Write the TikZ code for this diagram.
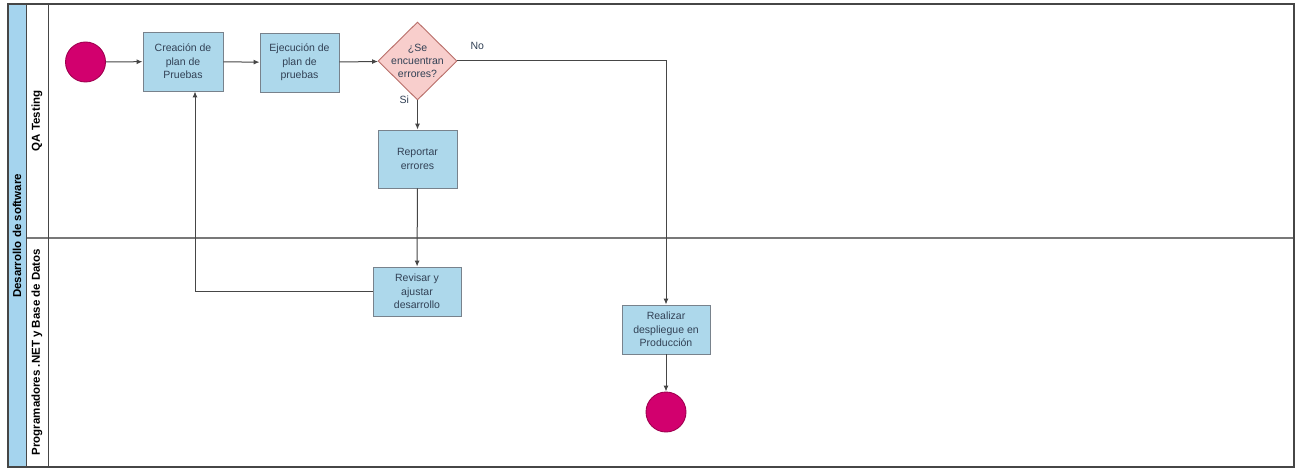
\documentclass[tikz,border=0pt]{standalone}
\usepackage{fontspec}
\setmainfont{Liberation Sans}
\usetikzlibrary{shapes.geometric,arrows.meta}
\definecolor{taskfill}{RGB}{173,216,235}
\definecolor{taskline}{RGB}{120,130,140}
\definecolor{tasktext}{RGB}{50,65,85}
\definecolor{decfill}{RGB}{248,206,204}
\definecolor{decline}{RGB}{184,110,105}
\definecolor{evfill}{RGB}{210,0,110}
\definecolor{evline}{RGB}{160,0,80}
\definecolor{poolfill}{RGB}{165,212,238}
\definecolor{frameline}{RGB}{70,70,70}
\definecolor{laneline}{RGB}{120,120,120}
\definecolor{flowline}{RGB}{70,70,70}
\begin{document}
\begin{tikzpicture}[x=1pt,y=-1pt,
  task/.style={draw=taskline, fill=taskfill, line width=0.9pt, align=center,
    inner sep=0pt, text=tasktext, font=\fontsize{10.5}{13.5}\selectfont},
  decision/.style={diamond, draw=decline, fill=decfill, line width=0.9pt,
    inner sep=0pt, minimum width=79, minimum height=78},
  event/.style={circle, draw=evline, fill=evfill, line width=0.9pt,
    inner sep=0pt, minimum size=40},
  flow/.style={draw=flowline, line width=1pt, -{Latex[length=6,width=5]}},
  flowlabel/.style={text=tasktext, font=\fontsize{10.5}{13}\selectfont},
  lanetitle/.style={font=\bfseries\fontsize{11.5}{13}\selectfont, text=black, rotate=90}]
\useasboundingbox (0,0) rectangle (1297,470);

% pool frame, title band and lanes
\fill[white] (8,4) rectangle (1294,467);
\fill[poolfill] (8,4) rectangle (26,467);
\draw[laneline, line width=2pt] (26,238) -- (1294,238);
\draw[frameline, line width=1pt] (26,4) -- (26,467);
\draw[frameline, line width=1pt] (48,4) -- (48,467);
\draw[frameline, line width=1.3pt] (8,4) rectangle (1294,467);

\node[lanetitle] (pool) at (17,236) {Desarrollo de software};
\node[lanetitle] (laneqa) at (37,121) {QA Testing};
\node[lanetitle] (lanedev) at (37,352) {Programadores .NET y Base de Datos};

% activities
\node[event] (start) at (85.5,62) {};
\node[task, minimum width=80, minimum height=59] (plan) at (183,61.5) {Creación de\\plan de\\Pruebas};
\node[task, minimum width=79, minimum height=59] (exec) at (299.5,62.5) {Ejecución de\\plan de\\pruebas};
\node[decision, label={[flowlabel, align=center]center:{¿Se\\encuentran\\errores?}}] (dec) at (417.5,61) {};
\node[task, minimum width=79, minimum height=58] (report) at (417.5,159) {Reportar\\errores};
\node[task, minimum width=88, minimum height=49] (review) at (417,291.5) {Revisar y\\ajustar\\desarrollo};
\node[task, minimum width=88, minimum height=49] (deploy) at (666,329.5) {Realizar\\despliegue en\\Producción};
\node[event] (end) at (666,412) {};

% sequence flows
\draw[flow] (start) -- (plan);
\draw[flow] (plan) -- (exec);
\draw[flow] (exec) -- (dec);
\draw[flow] (dec) -- (report);
\node[flowlabel, anchor=west] (si) at (396,100) {Si};
\draw[flow] (dec.east) -| (deploy.north);
\node[flowlabel, anchor=west] (no) at (467,46) {No};
\draw[flow] (report) -- (review);
\draw[flow] (review.west) -| ([xshift=12pt]plan.south);
\draw[flow] (deploy) -- (end);
\end{tikzpicture}
\end{document}
